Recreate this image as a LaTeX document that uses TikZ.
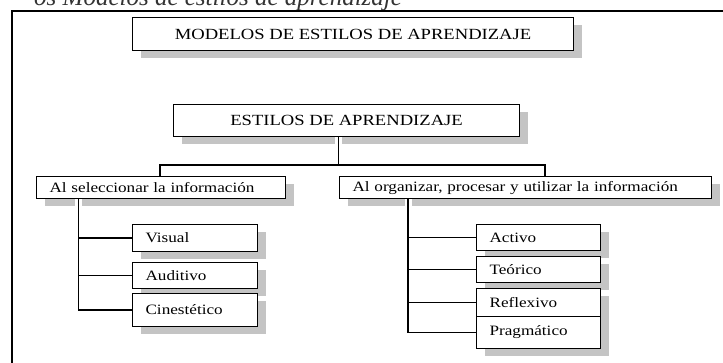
\documentclass[tikz,border=0pt]{standalone}
\usepackage{fontspec}
\setmainfont{Liberation Serif}
\newfontfamily\widefont[FakeStretch=1.2]{Liberation Serif}
\usetikzlibrary{shadows,calc}
\begin{document}
\begin{tikzpicture}[x=1pt,y=-1pt,
  frame/.style={line width=1.8pt},
  conn/.style={line width=1.1pt},
  gap/.style={white,line width=7pt},
  shbox/.style={draw,line width=1.1pt,fill=white,inner sep=0pt,anchor=north west,
    drop shadow={shadow xshift=8pt,shadow yshift=-7.5pt,fill=black!23,opacity=1}},
  topbox/.style={shbox,font=\widefont\fontsize{15.5}{18}\selectfont},
  lbox/.style={shbox,font=\widefont\fontsize{14.3}{17}\selectfont,align=left,inner xsep=13pt}]
\useasboundingbox (0,0) rectangle (723,363);
\node[anchor=base west,font=\itshape\fontsize{25}{30}\selectfont,text=black!80,inner sep=0pt] (ttl) at (34,6) {os Modelos de estilos de aprendizaje};
\draw[frame] (12,370) -- (12,11) -- (730,11);
% top boxes
\node[topbox,minimum width=441pt,minimum height=33pt] (mod) at (132,17) {MODELOS DE ESTILOS DE APRENDIZAJE};
\node[topbox,minimum width=346pt,minimum height=32pt] (est) at (173,104) {ESTILOS DE APRENDIZAJE};
% second level
\node[lbox,text width=223pt,minimum height=22pt] (sel) at (36,176) {Al seleccionar la información};
\node[lbox,text width=346pt,minimum height=22pt] (org) at (339,176) {Al organizar, procesar y utilizar la información};
% third level left
\node[lbox,text width=99pt,minimum height=27pt] (vis) at (132,224) {Visual};
\node[lbox,text width=99pt,minimum height=26pt] (aud) at (132,262) {Auditivo};
\node[lbox,text width=99pt,minimum height=33pt] (cin) at (132,293) {Cinestético};
% third level right
\node[lbox,text width=98pt,minimum height=26pt] (act) at (476,224) {Activo};
\node[lbox,text width=98pt,minimum height=26pt] (teo) at (476,256) {Teórico};
\node[lbox,text width=98pt,minimum height=28pt] (ref) at (476,288) {Reflexivo};
\node[lbox,text width=98pt,minimum height=32pt] (pra) at (476,316) {Pragmático};
% connectors
\coordinate (c0) at ($(est.south)+(-8,0)$);
\coordinate (jl) at (160,165);
\coordinate (jr) at (545,165);
\coordinate (lv) at ($(sel.south west)+(42.5,0)$);
\coordinate (rv) at ($(org.south west)+(69,0)$);
\draw[gap] (c0) -- ++(0,8);
\draw[gap] (lv) -- ++(0,8);
\draw[gap] (rv) -- ++(0,8);
\draw[conn] (c0) -- (c0 |- jl);
\draw[conn] (jl |- sel.north) -- (jl) -- (jr) -- (jr |- org.north);
\draw[conn] (lv) |- (cin.west);
\draw[conn] (lv |- vis.west) -- (vis.west);
\draw[conn] (lv |- aud.west) -- (aud.west);
\draw[conn] (rv) |- (pra.west);
\draw[conn] (rv |- act.west) -- (act.west);
\draw[conn] (rv |- teo.west) -- (teo.west);
\draw[conn] (rv |- ref.west) -- (ref.west);
\end{tikzpicture}
\end{document}
